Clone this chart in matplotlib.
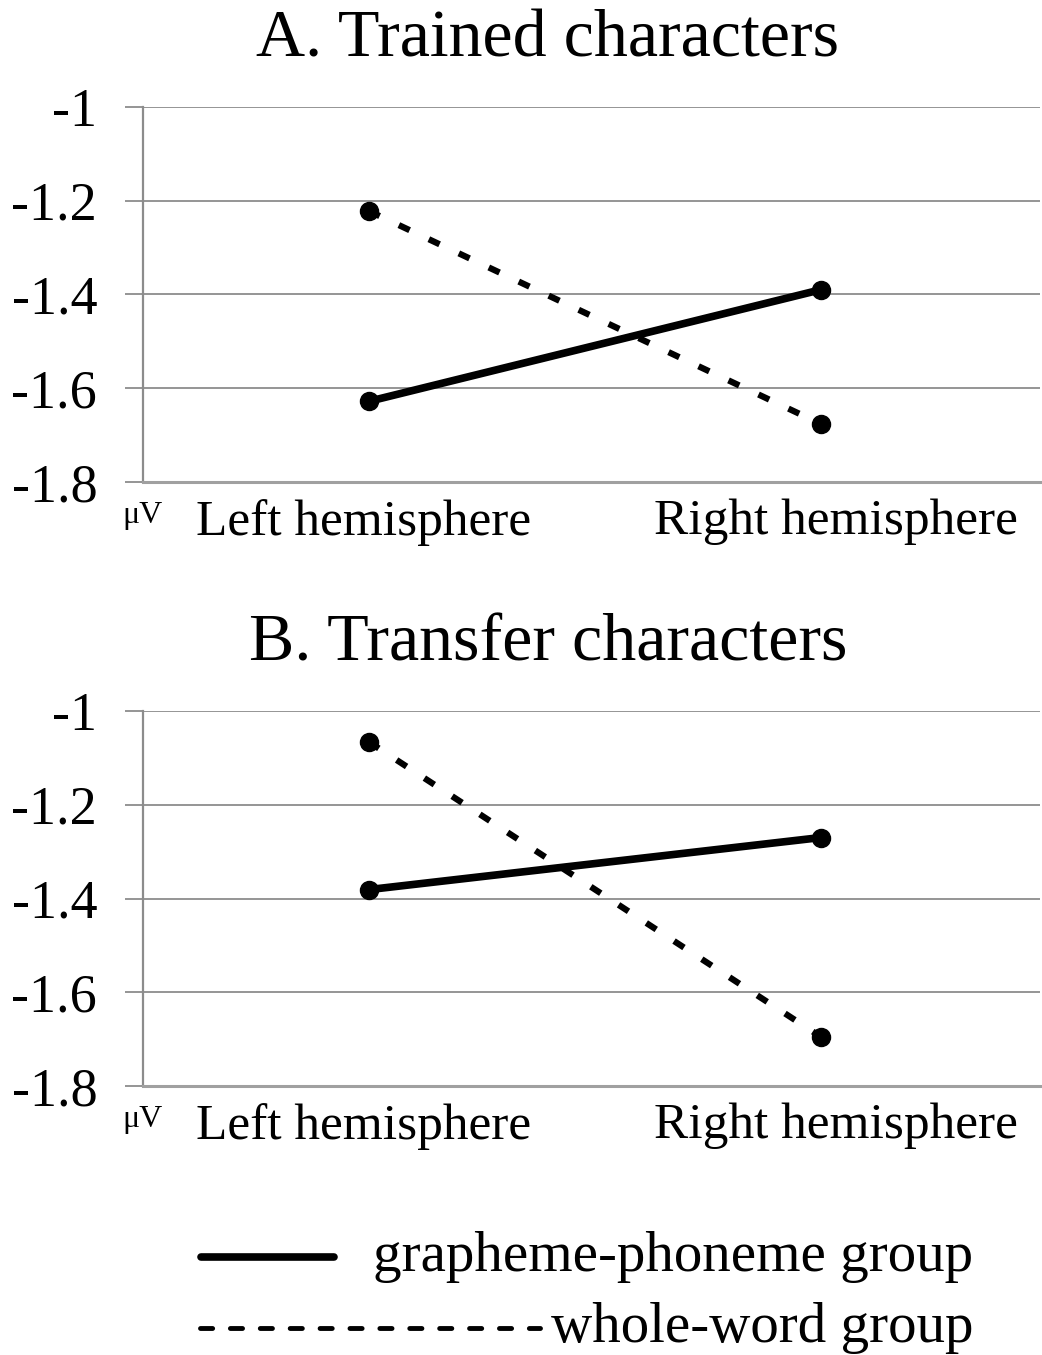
import matplotlib
matplotlib.use("Agg")
import matplotlib.pyplot as plt
from matplotlib.lines import Line2D

plt.rcParams['font.family'] = ['Liberation Serif', 'DejaVu Serif']

# data
categories = ['Left hemisphere', 'Right hemisphere']
yticks = [-1.0, -1.2, -1.4, -1.6, -1.8]
ytick_labels = ['-1', '-1.2', '-1.4', '-1.6', '-1.8']

trained_gp = [-1.628, -1.390]
trained_ww = [-1.222, -1.676]
transfer_gp = [-1.381, -1.270]
transfer_ww = [-1.066, -1.695]

titles = ['A. Trained characters', 'B. Transfer characters']
legend_labels = ['grapheme-phoneme group', 'whole-word group']

fig = plt.figure(figsize=(10.42, 13.55), dpi=100)
ax_a = fig.add_axes([0.1372, 0.6443, 0.8608, 0.2768])
ax_b = fig.add_axes([0.1372, 0.1985, 0.8608, 0.2768])

grid_c = '#8c8c8c'
for ax, gp, ww, title in [(ax_a, trained_gp, trained_ww, titles[0]),
                          (ax_b, transfer_gp, transfer_ww, titles[1])]:
    x = range(len(categories))
    ax.plot(x, ww, color='black', lw=4.5, ls=(0, (1.9, 3.4)),
            marker='o', ms=13, zorder=3)
    ax.plot(x, gp, color='black', lw=5.5, marker='o', ms=13, zorder=4)
    ax.set_xlim(-0.5, 1.485)
    ax.set_ylim(-1.8, -1.0)
    ax.set_yticks(yticks)
    ax.set_yticklabels(ytick_labels, fontsize=39)
    # label ticks sit a little off the points in the original
    ax.set_xticks([-0.011, 1.033])
    ax.set_xticklabels(categories, fontsize=37)
    ax.tick_params(axis='x', length=0, pad=12)
    ax.tick_params(axis='y', length=13, width=1.3, color=grid_c, pad=20)
    ax.grid(axis='y', color=grid_c, lw=1.3)
    ax.set_axisbelow(True)
    for s in ['top', 'right']:
        ax.spines[s].set_visible(False)
    ax.spines['left'].set_color(grid_c)
    ax.spines['left'].set_linewidth(1.6)
    ax.spines['bottom'].set_color('#a0a0a0')
    ax.spines['bottom'].set_linewidth(2.2)
    ax.text(0.0, -0.05, '\u03bcV', transform=ax.transAxes,
            fontsize=23, ha='center', va='top')
    ax.set_title(title, fontsize=49, pad=36, x=0.4515)

# legend drawn by hand (handles of different lengths)
fig.add_artist(Line2D([0.193, 0.321], [0.0723, 0.0723], color='black',
                      lw=5.5, solid_capstyle='round', transform=fig.transFigure))
fig.add_artist(Line2D([0.192, 0.518], [0.0199, 0.0199], color='black',
                      lw=3.5, ls=(0, (2.5, 3.65)), dash_capstyle='round',
                      transform=fig.transFigure))
fig.text(0.934, 0.0723, legend_labels[0], fontsize=41, ha='right', va='center')
fig.text(0.934, 0.0199, legend_labels[1], fontsize=41, ha='right', va='center')

fig.savefig('out.png', dpi=100)
